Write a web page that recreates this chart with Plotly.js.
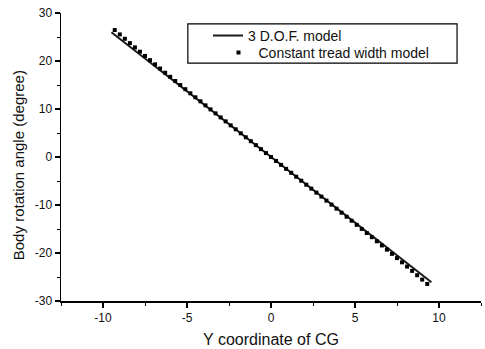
<!DOCTYPE html>
<html>
<head>
<meta charset="utf-8">
<script src="https://cdn.plot.ly/plotly-3.0.1.min.js"></script>
<style>html,body{margin:0;padding:0;background:#fff;}#plot{width:485px;height:349px;}</style>
</head>
<body>
<div id="plot"></div>
<script>
// 3 D.O.F. model (line)
const dofX = [-9.5, 9.55];
const dofY = [26.0, -26.1];

// Constant tread width model (square markers)
const ctwX = [-9.3,-9.0,-8.7,-8.4,-8.1,-7.8,-7.5,-7.2,-6.9,-6.6,-6.3,-6.0,-5.7,-5.4,-5.1,-4.8,-4.5,-4.2,-3.9,-3.6,-3.3,-3.0,-2.7,-2.4,-2.1,-1.8,-1.5,-1.2,-0.9,-0.6,-0.3,0.0,
  0.3,0.6,0.9,1.2,1.5,1.8,2.1,2.4,2.7,3.0,3.3,3.6,3.9,4.2,4.5,4.8,5.1,5.4,5.7,6.0,6.3,6.6,6.9,7.2,7.5,7.8,8.1,8.4,8.7,9.0,9.3];
const ctwY = [26.45,25.54,24.63,23.73,22.83,21.94,21.06,20.18,19.30,18.43,17.56,16.70,15.84,14.99,14.13,13.28,12.44,11.60,10.76,9.92,9.09,8.25,7.42,6.59,5.77,4.94,4.11,3.29,2.47,1.64,0.82,0.0,
  -0.82,-1.64,-2.47,-3.29,-4.11,-4.94,-5.77,-6.59,-7.42,-8.25,-9.09,-9.92,-10.76,-11.60,-12.44,-13.28,-14.13,-14.99,-15.84,-16.70,-17.56,-18.43,-19.30,-20.18,-21.06,-21.94,-22.83,-23.73,-24.63,-25.54,-26.45];

const seriesNames = ["3 D.O.F. model", "Constant tread width model"];
const xTickVals = [-10, -5, 0, 5, 10];
const xTickText = ["-10", "-5", "0", "5", "10"];
const yTickVals = [-30, -20, -10, 0, 10, 20, 30];
const yTickText = ["-30", "-20", "-10", "0", "10", "20", "30"];
const xTitle = "Y coordinate of CG";
const yTitle = "Body rotation angle (degree)";

const fontFam = "Liberation Sans, Arial, sans-serif";
const txtColor = "#111";

const traces = [
  {x: dofX, y: dofY, mode: "lines", name: seriesNames[0], legend: "legend",
   line: {color: "#1a1a1a", width: 2}},
  {x: ctwX, y: ctwY, mode: "markers", name: seriesNames[1], legend: "legend2",
   marker: {symbol: "square", size: 4, color: "#000"}}
];

const axisCommon = {
  showgrid: false, zeroline: false, showline: true, linecolor: "#000", linewidth: 1.5,
  ticks: "outside", ticklen: 5, tickwidth: 1.2, tickcolor: "#000",
  tickfont: {family: fontFam, size: 12, color: txtColor}
};

const legendCommon = {
  xanchor: "left", yanchor: "top", bgcolor: "rgba(0,0,0,0)", borderwidth: 0,
  font: {family: fontFam, size: 14, color: txtColor}, itemwidth: 30
};

const layout = {
  width: 485, height: 349,
  margin: {l: 61, r: 4, t: 13, b: 48},
  paper_bgcolor: "#fff", plot_bgcolor: "#fff",
  showlegend: true,
  legend: Object.assign({}, legendCommon, {x: 0.35, y: 0.976}),
  legend2: Object.assign({}, legendCommon, {x: 0.375, y: 0.917}),
  xaxis: Object.assign({}, axisCommon, {
    range: [-12.5, 12.5], tickmode: "array", tickvals: xTickVals, ticktext: xTickText,
    minor: {dtick: 2.5, ticks: "outside", ticklen: 3, tickcolor: "#000", tickwidth: 1},
    title: {text: xTitle, font: {family: fontFam, size: 16, color: txtColor}, standoff: 10}
  }),
  yaxis: Object.assign({}, axisCommon, {
    range: [-30, 30], tickmode: "array", tickvals: yTickVals, ticktext: yTickText,
    minor: {dtick: 5, ticks: "outside", ticklen: 3, tickcolor: "#000", tickwidth: 1}
  }),
  annotations: [
    {text: yTitle, xref: "paper", yref: "paper", x: -0.102, y: 0.472,
     xanchor: "center", yanchor: "middle", textangle: -90, showarrow: false,
     font: {family: fontFam, size: 15, color: txtColor}}
  ],
  shapes: [
    {type: "rect", xref: "paper", yref: "paper", x0: 0.302, x1: 0.943, y0: 0.826, y1: 0.962,
     line: {color: "#000", width: 1.2}, fillcolor: "rgba(0,0,0,0)"}
  ]
};

Plotly.newPlot("plot", traces, layout, {displayModeBar: false, staticPlot: true});
</script>
</body>
</html>
